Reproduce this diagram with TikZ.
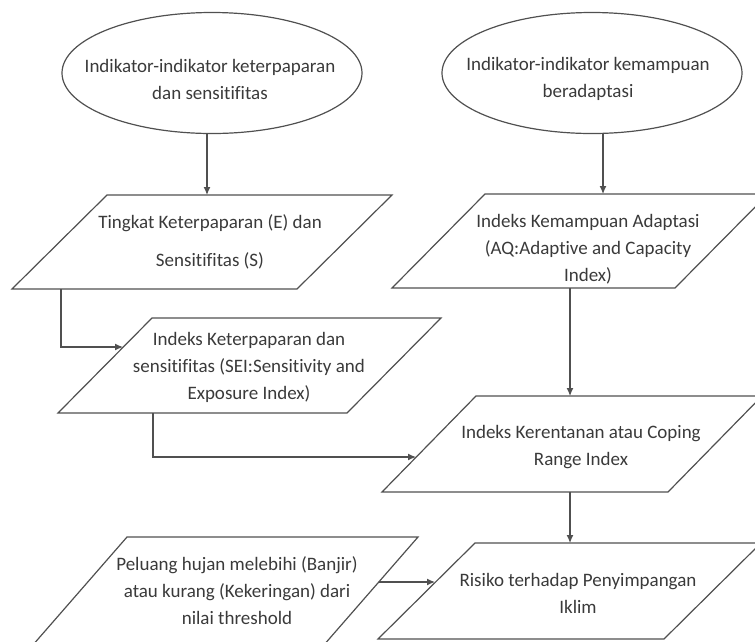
\documentclass[tikz,border=0pt]{standalone}
\usepackage{fontspec}
\setmainfont{Carlito}[Ligatures=CommonOff]
\usetikzlibrary{arrows.meta,shapes.geometric}
\definecolor{linec}{HTML}{505050}
\definecolor{textc}{HTML}{3A3A3A}
\newcommand\pgm[6]{%
  \coordinate (#1-bl) at (#2,#5);
  \coordinate (#1-br) at ({#2+#3},#5);
  \coordinate (#1-tl) at ({#2+#6},#4);
  \coordinate (#1-tr) at ({#2+#3+#6},#4);
  \draw[shp] (#1-bl) -- (#1-br) -- (#1-tr) -- (#1-tl) -- cycle;}
\begin{document}
\begin{tikzpicture}[x=1pt,y=-1pt,
  shp/.style={draw=linec,line width=1.2pt,line join=miter},
  ell/.style={draw=linec,line width=1.2pt,ellipse,minimum width=300pt,minimum height=121pt,inner sep=0pt},
  txt/.style={text=textc,align=center,font=\fontsize{19}{27}\selectfont,inner sep=0pt},
  arr/.style={draw=linec,line width=1.2pt,-{Latex[length=8pt,width=7pt]}}]
\useasboundingbox (0,0) rectangle (755,641);
\begin{scope}
\clip (0,0) rectangle (755,641);
% ellipses
\node[ell] (e1) at (212,73) {};
\node[ell] (e2) at (592,73) {};
\node[txt] (e1t) at (210,79) {Indikator-indikator keterpaparan\\dan sensitifitas};
\node[txt] (e2t) at (588,79) {Indikator-indikator kemampuan\\beradaptasi};
% parallelograms
\pgm{pa}{12}{285}{195}{289}{95}
\pgm{pb}{58}{289}{318}{413}{94}
\pgm{pc}{392}{283}{194}{288}{93}
\pgm{pd}{382}{286}{396}{492}{94}
\pgm{pe}{378}{286}{543}{639}{97}
\pgm{pf}{32}{291}{537}{646}{95}
\node[txt] (pat) at (210,242) {Tingkat Keterpaparan (E) dan\\[11pt]Sensitifitas (S)};
\node[txt] (pbt) at (249,367) {Indeks Keterpaparan dan\\sensitifitas (SEI:Sensitivity and\\Exposure Index)};
\node[txt] (pct) at (588,249) {Indeks Kemampuan Adaptasi\\(AQ:Adaptive and Capacity\\Index)};
\node[txt] (pdt) at (581,447) {Indeks Kerentanan atau Coping\\Range Index};
\node[txt] (pet) at (578,593) {Risiko terhadap Penyimpangan\\Iklim};
\node[txt] (pft) at (237,591) {Peluang hujan melebihi (Banjir)\\atau kurang (Kekeringan) dari\\nilai threshold};
% connector end points
\coordinate (pa-in) at (207,195);
\coordinate (pc-in) at (603,194);
\coordinate (pa-out) at (61,289);
\coordinate (pb-in) at (123,347);
\coordinate (pb-out) at (153,413);
\coordinate (pd-in) at (416,457);
\coordinate (pc-out) at (570,288);
\coordinate (pd-top) at (570,396);
\coordinate (pd-out) at (570,492);
\coordinate (pe-top) at (570,543);
\coordinate (pf-out) at (379,582);
\coordinate (pe-in) at (435,582);
% connectors
\draw[arr] (pa-in |- e1.south) -- (pa-in);
\draw[arr] (pc-in |- e2.south) -- (pc-in);
\draw[arr] (pa-out) |- (pb-in);
\draw[arr] (pb-out) |- (pd-in);
\draw[arr] (pc-out) -- (pd-top);
\draw[arr] (pd-out) -- (pe-top);
\draw[arr] (pf-out) -- (pe-in);
\end{scope}
\end{tikzpicture}
\end{document}
